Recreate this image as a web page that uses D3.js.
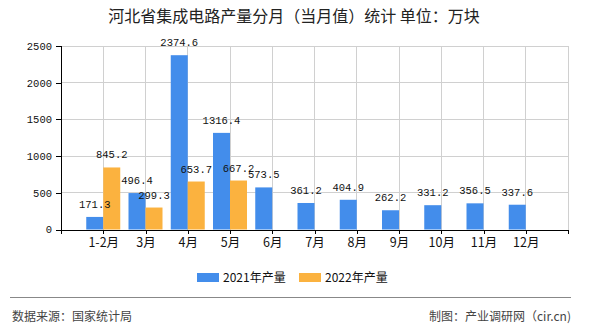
<!DOCTYPE html>
<html>
<head>
<meta charset="utf-8">
<script src="https://cdn.jsdelivr.net/npm/d3@7/dist/d3.min.js"></script>
<style>
  html, body { margin: 0; padding: 0; background: #fff; }
  svg { display: block; }
</style>
</head>
<body>
<svg id="chart" width="590" height="330"></svg>
<script>
// Monthly integrated-circuit output, Hebei (10k units)
const months = ["1-2月", "3月", "4月", "5月", "6月", "7月", "8月", "9月", "10月", "11月", "12月"];
const output2021 = [171.3, 496.4, 2374.6, 1316.4, 573.5, 361.2, 404.9, 262.2, 331.2, 356.5, 337.6];
const output2022 = [845.2, 299.3, 653.7, 667.2, null, null, null, null, null, null, null];
const seriesNames = ["2021年产量", "2022年产量"];
const seriesColors = ["#438DEB", "#FBB23F"];
const yTicks = [0, 500, 1000, 1500, 2000, 2500];

const cjk = "'Noto Sans CJK SC', 'Noto Sans', sans-serif";
const mono = "'Liberation Mono', 'DejaVu Sans Mono', 'Noto Sans CJK SC', monospace";

const svg = d3.select("#chart");
const plot = { left: 61, right: 568, top: 46, bottom: 229.5 };

const x = d3.scalePoint().domain(months).range([plot.left, plot.right]).padding(1);
const y = d3.scaleLinear().domain([0, 2500]).range([plot.bottom, plot.top]);
const barW = 17;

// title
svg.append("text")
  .attr("x", 294).attr("y", 22)
  .attr("text-anchor", "middle")
  .attr("font-family", cjk).attr("font-size", 16).attr("fill", "#222")
  .text("河北省集成电路产量分月（当月值）统计 单位：万块");

// grid
const grid = svg.append("g").attr("stroke", "#d0d0d0").attr("stroke-width", 1).attr("shape-rendering", "crispEdges");
grid.selectAll("line.h").data(yTicks.slice(1)).join("line")
  .attr("x1", plot.left).attr("x2", plot.right)
  .attr("y1", d => y(d)).attr("y2", d => y(d));
grid.selectAll("line.v").data(months.concat(["__end"])).join("line")
  .attr("x1", d => d === "__end" ? plot.right : x(d))
  .attr("x2", d => d === "__end" ? plot.right : x(d))
  .attr("y1", plot.top).attr("y2", plot.bottom);

// bars
const bars = svg.append("g");
bars.selectAll("rect.s0").data(output2021).join("rect")
  .attr("x", (d, i) => x(months[i]) - barW)
  .attr("y", d => y(d))
  .attr("width", barW)
  .attr("height", d => y(0) - y(d))
  .attr("fill", seriesColors[0]);
bars.selectAll("rect.s1").data(output2022.map((v, i) => ({ v, i })).filter(d => d.v != null)).join("rect")
  .attr("x", d => x(months[d.i]))
  .attr("y", d => y(d.v))
  .attr("width", barW)
  .attr("height", d => y(0) - y(d.v))
  .attr("fill", seriesColors[1]);

// value labels
const labels = svg.append("g")
  .attr("font-family", mono).attr("font-size", 10.5).attr("fill", "#111")
  .attr("text-anchor", "middle");
labels.selectAll("text.s0").data(output2021).join("text")
  .attr("x", (d, i) => x(months[i]) - barW / 2)
  .attr("y", d => y(d) - 9)
  .text(d => d.toFixed(1));
labels.selectAll("text.s1").data(output2022.map((v, i) => ({ v, i })).filter(d => d.v != null)).join("text")
  .attr("x", d => x(months[d.i]) + barW / 2)
  .attr("y", d => y(d.v) - 9)
  .text(d => d.v.toFixed(1));

// y axis
const yAxis = svg.append("g")
  .attr("transform", `translate(${plot.left},0)`)
  .call(d3.axisLeft(y).tickValues(yTicks).tickSize(5).tickPadding(4).tickFormat(d3.format("d")));
yAxis.selectAll("text").attr("font-family", mono).attr("font-size", 10.5).attr("fill", "#111");
yAxis.selectAll("line, path").attr("stroke", "#000").attr("shape-rendering", "crispEdges");

// x axis
const xAxis = svg.append("g")
  .attr("transform", `translate(0,${plot.bottom})`)
  .call(d3.axisBottom(x).tickSize(4).tickPadding(5).tickSizeOuter(4));
xAxis.selectAll("text").attr("font-family", cjk).attr("font-size", 12.5).attr("fill", "#111");
xAxis.selectAll("line, path").attr("stroke", "#000").attr("shape-rendering", "crispEdges");

// legend
const legend = svg.append("g").attr("font-family", cjk).attr("font-size", 12).attr("fill", "#111");
const legendX = [197, 299];
seriesNames.forEach((name, i) => {
  legend.append("rect")
    .attr("x", legendX[i]).attr("y", 273)
    .attr("width", 22).attr("height", 9)
    .attr("fill", seriesColors[i]);
  legend.append("text")
    .attr("x", legendX[i] + 26).attr("y", 281.5)
    .text(name);
});

// footer
svg.append("line")
  .attr("x1", 10).attr("x2", 571).attr("y1", 297.5).attr("y2", 297.5)
  .attr("stroke", "#888").attr("stroke-width", 1);
svg.append("text")
  .attr("x", 12).attr("y", 321)
  .attr("font-family", cjk).attr("font-size", 12).attr("fill", "#444")
  .text("数据来源：国家统计局");
svg.append("text")
  .attr("x", 571).attr("y", 321)
  .attr("text-anchor", "end")
  .attr("font-family", cjk).attr("font-size", 12).attr("fill", "#444")
  .text("制图：产业调研网（cir.cn)");
</script>
</body>
</html>
